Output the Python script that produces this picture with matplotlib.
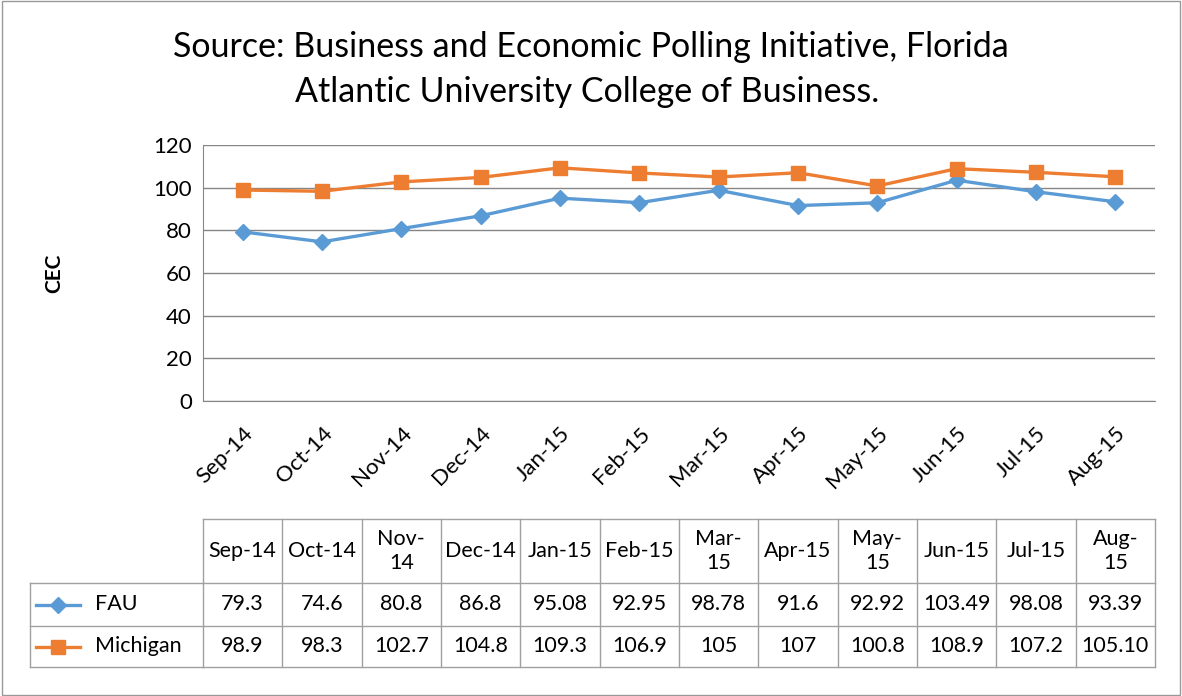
import matplotlib.pyplot as plt
import matplotlib.transforms as mtransforms
from matplotlib.lines import Line2D
from matplotlib.patches import Rectangle

plt.rcParams['font.family'] = ['Lato', 'DejaVu Sans']

# data
months = ['Sep-14', 'Oct-14', 'Nov-14', 'Dec-14', 'Jan-15', 'Feb-15',
          'Mar-15', 'Apr-15', 'May-15', 'Jun-15', 'Jul-15', 'Aug-15']
header_labels = ['Sep-14', 'Oct-14', 'Nov-\n14', 'Dec-14', 'Jan-15', 'Feb-15',
                 'Mar-\n15', 'Apr-15', 'May-\n15', 'Jun-15', 'Jul-15', 'Aug-\n15']
fau = [79.3, 74.6, 80.8, 86.8, 95.08, 92.95, 98.78, 91.6, 92.92, 103.49, 98.08, 93.39]
michigan = [98.9, 98.3, 102.7, 104.8, 109.3, 106.9, 105, 107, 100.8, 108.9, 107.2, 105.10]
fau_text = ['79.3', '74.6', '80.8', '86.8', '95.08', '92.95', '98.78', '91.6',
            '92.92', '103.49', '98.08', '93.39']
michigan_text = ['98.9', '98.3', '102.7', '104.8', '109.3', '106.9', '105', '107',
                 '100.8', '108.9', '107.2', '105.10']

blue = '#5B9BD5'
orange = '#ED7D31'
grid_c = '#868686'

W, H = 1182, 696
fig = plt.figure(figsize=(W / 100, H / 100), dpi=100)
fig.patches.append(Rectangle((0.002, 0.002), 0.996, 0.996, transform=fig.transFigure,
                             fill=False, edgecolor='#999999', linewidth=1))

ax = fig.add_axes([203 / W, 1 - 401 / H, (1155 - 203) / W, (401 - 145) / H])
x = list(range(len(months)))
ax.plot(x, fau, color=blue, linewidth=2.4, marker='D', markersize=8, zorder=3)
ax.plot(x, michigan, color=orange, linewidth=2.4, marker='s', markersize=10, zorder=3)
ax.set_xlim(-0.5, len(months) - 0.5)
ax.set_ylim(0, 120)
ax.set_yticks(range(0, 121, 20))
ax.yaxis.grid(True, color=grid_c, linewidth=1)
ax.set_axisbelow(True)
for s in ['top', 'right']:
    ax.spines[s].set_visible(False)
ax.spines['left'].set_color(grid_c)
ax.spines['bottom'].set_color(grid_c)
ax.tick_params(axis='both', length=0, labelsize=16, pad=8)
ax.tick_params(axis='x', pad=16)
ax.set_xticks(x)
ax.set_xticklabels(months, rotation=45, ha='right', rotation_mode='anchor')
ax.set_ylabel('CEC', fontsize=15, fontweight='bold')
ax.yaxis.set_label_coords(-0.146, 0.5)

fig.text(0.5, 1 - 47 / H, 'Source: Business and Economic Polling Initiative, Florida',
         ha='center', va='center', fontsize=24.5)
fig.text(0.497, 1 - 92 / H, 'Atlantic University College of Business.',
         ha='center', va='center', fontsize=24.5)

# data table below the chart
tr = mtransforms.blended_transform_factory(ax.transData, fig.transFigure)
fy = lambda py: 1 - py / H
rows_y = [519, 583, 626, 667]
ln = dict(color='#a0a0a0', linewidth=1, transform=tr, clip_on=False)
n = len(months)
for py in rows_y:
    fig.add_artist(Line2D([-0.5, n - 0.5], [fy(py)] * 2, **ln))
for i in range(n + 1):
    fig.add_artist(Line2D([i - 0.5, i - 0.5], [fy(rows_y[0]), fy(rows_y[3])], **ln))
# left header column
lt = dict(color='#a0a0a0', linewidth=1, transform=fig.transFigure)
for py in rows_y[1:]:
    fig.add_artist(Line2D([30 / W, 203 / W], [fy(py)] * 2, **lt))
fig.add_artist(Line2D([30 / W, 30 / W], [fy(rows_y[1]), fy(rows_y[3])], **lt))

for i in range(n):
    fig.text(i, fy((rows_y[0] + rows_y[1]) / 2), header_labels[i], transform=tr,
             ha='center', va='center', fontsize=15.5, linespacing=1.3)
    fig.text(i, fy((rows_y[1] + rows_y[2]) / 2), fau_text[i], transform=tr,
             ha='center', va='center', fontsize=15.5)
    fig.text(i, fy((rows_y[2] + rows_y[3]) / 2), michigan_text[i], transform=tr,
             ha='center', va='center', fontsize=15.5)

for name, c, m, ms, r in [('FAU', blue, 'D', 8, 1), ('Michigan', orange, 's', 10, 2)]:
    yc = fy((rows_y[r] + rows_y[r + 1]) / 2)
    fig.add_artist(Line2D([36 / W, 80 / W], [yc, yc], color=c, linewidth=2.4,
                          transform=fig.transFigure))
    fig.add_artist(Line2D([58 / W], [yc], color=c, marker=m, markersize=ms,
                          linestyle='none', transform=fig.transFigure))
    fig.text(95 / W, yc, name, ha='left', va='center', fontsize=15.5)

fig.savefig('out.png', dpi=100)
